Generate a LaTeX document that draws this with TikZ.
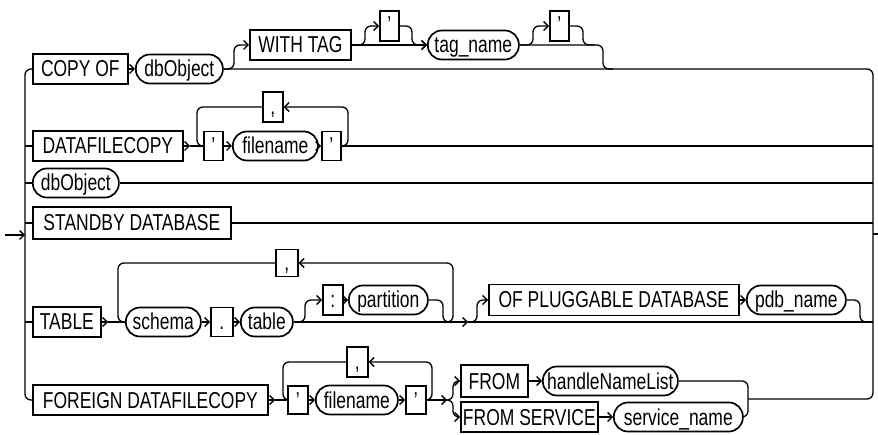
\documentclass[tikz,border=0pt]{standalone}
\usepackage{fontspec}
\setmainfont[FakeStretch=0.76]{Liberation Sans}
\usetikzlibrary{arrows.meta}
\tikzset{
  base/.style={font=\fontsize{23}{26}\selectfont, inner xsep=1pt, inner ysep=0pt, text height=19.5pt, text depth=3.5pt, line width=1.7pt, anchor=west},
  kw/.style={base, draw, rectangle, minimum height=30pt},
  nt/.style={base, draw, rectangle, rounded corners=14pt, minimum height=29pt},
  ln/.style={line width=1.3pt, rounded corners=6pt},
  ar/.style={ln, -{Straight Barb[length=4.5pt,width=9pt]}},
}
\begin{document}
\begin{tikzpicture}[x=1pt,y=-1pt]
\useasboundingbox (0,0) rectangle (878,435);
% ---- row 1
\node[kw, minimum width=95] (copyof) at (32,69) {COPY OF};
\node[nt, minimum width=87] (dbo1) at (135,69) {dbObject};
\node[kw, minimum width=101] (wt) at (249,45) {WITH TAG};
\node[kw, minimum width=19, text height=17pt, text depth=4pt] (q1) at (379,26) {'};
\node[nt, minimum width=91] (tn) at (427,45) {tag\_name};
\node[kw, minimum width=19, text height=17pt, text depth=4pt] (q2) at (549,26) {'};
% ---- row 2
\node[kw, minimum width=150] (dfc) at (32,146) {DATAFILECOPY};
\node[kw, minimum width=19, minimum height=29] (q3) at (203,146) {'};
\node[nt, minimum width=85] (fn1) at (232,146) {filename};
\node[kw, minimum width=19, minimum height=29] (q4) at (321,146) {'};
\node[kw, minimum width=20, minimum height=30] (c1) at (262,107) {,};
% ---- row 3, 4
\node[nt, minimum width=86] (dbo2) at (32,183) {dbObject};
\node[kw, minimum width=198, minimum height=32] (sb) at (32,223) {STANDBY DATABASE};
% ---- row 5
\node[kw, minimum width=68] (tbl5) at (32,322) {TABLE};
\node[nt, minimum width=75] (sch) at (125,322) {schema};
\node[kw, minimum width=22, minimum height=29] (dot) at (210,322) {.};
\node[nt, minimum width=52] (tab) at (240,322) {table};
\node[kw, minimum width=20] (col) at (322,300) {:};
\node[nt, minimum width=79] (part) at (348,300) {partition};
\node[kw, minimum width=22, minimum height=27] (c2) at (275,263) {,};
\node[kw, minimum width=250, minimum height=31] (opd) at (488,300) {OF PLUGGABLE DATABASE};
\node[nt, minimum width=99] (pdb) at (746,300) {pdb\_name};
% ---- row 6
\node[kw, minimum width=235] (fdc) at (32,400) {FOREIGN DATAFILECOPY};
\node[kw, minimum width=20, minimum height=28] (q5) at (287,400) {'};
\node[nt, minimum width=82] (fn2) at (315,400) {filename};
\node[kw, minimum width=20, minimum height=28] (q6) at (405,400) {'};
\node[kw, minimum width=21, minimum height=30] (c3) at (346,362) {,};
\node[kw, minimum width=67, minimum height=32] (from) at (460,381) {FROM};
\node[nt, minimum width=135] (hnl) at (542,381) {handleNameList};
\node[kw, minimum width=137, minimum height=30] (fs) at (460,417) {FROM SERVICE};
\node[nt, minimum width=129] (sn) at (613,417) {service\_name};
% ---- coordinates
\coordinate (start) at (5,235);
\coordinate (lv) at (25,235);
\coordinate (ex1) at (873,234);
\coordinate (ex2) at (878,234);
\coordinate (a2) at (190,146);
\coordinate (a5) at (108,322);
\coordinate (a5b) at (468,322);
\coordinate (a6) at (275,400);
\coordinate (a6b) at (447,400);
% ---- left and right rails
\draw[ar] (start) -- (lv);
\draw[ln] (copyof.west) -- (25,69) -- (25,400) -- (fdc.west);
\draw[ln] (25,146) -- (dfc.west);
\draw[ln] (25,183) -- (dbo2.west);
\draw[ln] (25,223) -- (sb.west);
\draw[ln] (25,322) -- (tbl5.west);
\draw[ln] (dbo1.east) -- (873,69) -- (873,399) -- (748,399);
\draw[ln] (ex1) -- (ex2);
% ---- row 1
\draw[ar] (copyof) -- (dbo1);
\draw[ar] (dbo1.east) -- (234,69) -- (234,45) -- (wt.west);
\draw[ar] (wt) -- (tn);
\draw[ar] (wt.east) -- (365,45) -- (365,26) -- (q1.west);
\draw[ar] (q1.east) -- (412,26) -- (412,45) -- (tn.west);
\draw[ln] (tn.east) -- (603,45) -- (603,69) -- (613,69);
\draw[ar] (tn.east) -- (533,45) -- (533,26) -- (q2.west);
\draw[ln] (q2.east) -- (583,26) -- (583,45) -- (595,45);
% ---- row 2
\draw[ar] (dfc.east) -- (a2);
\draw[ln] (a2) -- (q3.west);
\draw[ar] (q3) -- (fn1);
\draw[ar] (fn1) -- (q4);
\draw[ln] (q4.east) -- (873,146);
\draw[ar] (q4.east) -- (348,146) -- (348,107) -- (c1.east);
\draw[ln] (c1.west) -- (197,107) -- (197,146) -- (q3.west);
% ---- row 3, 4
\draw[ln] (dbo2.east) -- (873,183);
\draw[ln] (sb.east) -- (873,223);
% ---- row 5
\draw[ar] (tbl5.east) -- (a5);
\draw[ln] (a5) -- (sch.west);
\draw[ln] (c2.west) -- (118,263) -- (118,322) -- (sch.west);
\draw[ar] (sch) -- (dot);
\draw[ar] (dot) -- (tab);
\draw[ar] (tab.east) -- (a5b);
\draw[ln] (a5b) -- (873,322);
\draw[ar] (tab.east) -- (305,322) -- (305,300) -- (col.west);
\draw[ar] (col) -- (part);
\draw[ar] (part.east) -- (443,300) -- (443,322) -- (453,322) -- (453,263) -- (c2.east);
\draw[ar] (a5b) -- (477,322) -- (477,300) -- (opd.west);
\draw[ar] (opd) -- (pdb);
\draw[ln] (pdb.east) -- (860,300) -- (860,322) -- (868,322);
% ---- row 6
\draw[ar] (fdc.east) -- (a6);
\draw[ln] (a6) -- (q5.west);
\draw[ar] (q5) -- (fn2);
\draw[ar] (fn2) -- (q6);
\draw[ar] (q6.east) -- (432,400) -- (432,362) -- (c3.east);
\draw[ln] (c3.west) -- (283,362) -- (283,400) -- (q5.west);
\draw[ar] (q6.east) -- (a6b);
\draw[ar] (a6b) -- (453,400) -- (453,381) -- (from.west);
\draw[ar] (a6b) -- (453,400) -- (453,417) -- (fs.west);
\draw[ar] (from) -- (hnl);
\draw[ar] (fs) -- (sn);
\draw[ln] (hnl.east) -- (748,381) -- (748,417) -- (sn.east);
\end{tikzpicture}
\end{document}
